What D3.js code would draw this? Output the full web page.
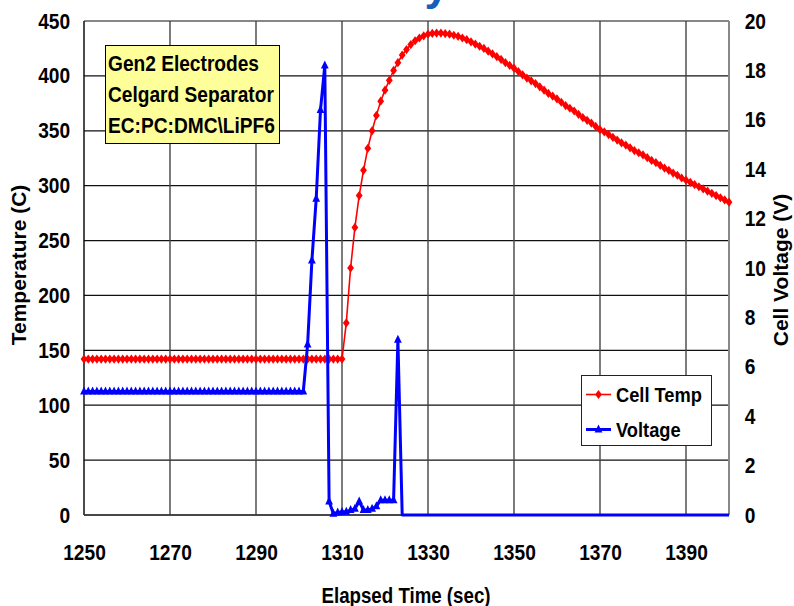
<!DOCTYPE html>
<html>
<head>
<meta charset="utf-8">
<script src="https://cdn.jsdelivr.net/npm/d3@7"></script>
<style>
body { margin: 0; background: #fff; }
svg { display: block; }
text { font-family: "Liberation Sans", Arial, sans-serif; font-weight: bold; fill: #000; }
</style>
</head>
<body>
<div id="chart"></div>
<script>
const width = 794, height = 606;
const margin = { left: 84, right: 65, top: 21, bottom: 91 };
const squeeze = 0.87; // the original font is a bit narrower than Arial

// elapsed time (sec), one sample per second
const seconds = [
    1250, 1251, 1252, 1253, 1254, 1255, 1256, 1257, 1258, 1259,
    1260, 1261, 1262, 1263, 1264, 1265, 1266, 1267, 1268, 1269,
    1270, 1271, 1272, 1273, 1274, 1275, 1276, 1277, 1278, 1279,
    1280, 1281, 1282, 1283, 1284, 1285, 1286, 1287, 1288, 1289,
    1290, 1291, 1292, 1293, 1294, 1295, 1296, 1297, 1298, 1299,
    1300, 1301, 1302, 1303, 1304, 1305, 1306, 1307, 1308, 1309,
    1310, 1311, 1312, 1313, 1314, 1315, 1316, 1317, 1318, 1319,
    1320, 1321, 1322, 1323, 1324, 1325, 1326, 1327, 1328, 1329,
    1330, 1331, 1332, 1333, 1334, 1335, 1336, 1337, 1338, 1339,
    1340, 1341, 1342, 1343, 1344, 1345, 1346, 1347, 1348, 1349,
    1350, 1351, 1352, 1353, 1354, 1355, 1356, 1357, 1358, 1359,
    1360, 1361, 1362, 1363, 1364, 1365, 1366, 1367, 1368, 1369,
    1370, 1371, 1372, 1373, 1374, 1375, 1376, 1377, 1378, 1379,
    1380, 1381, 1382, 1383, 1384, 1385, 1386, 1387, 1388, 1389,
    1390, 1391, 1392, 1393, 1394, 1395, 1396, 1397, 1398, 1399,
    1400
];

// Cell Temp (C)
const cellTemp = [
    142, 142, 142, 142, 142, 142, 142, 142, 142, 142,
    142, 142, 142, 142, 142, 142, 142, 142, 142, 142,
    142, 142, 142, 142, 142, 142, 142, 142, 142, 142,
    142, 142, 142, 142, 142, 142, 142, 142, 142, 142,
    142, 142, 142, 142, 142, 142, 142, 142, 142, 142,
    142, 142, 142, 142, 142, 142, 142, 142, 142, 142,
    142, 175, 225, 262, 291, 314, 334, 350, 364, 377,
    387, 396, 405, 412, 419, 424, 428.5, 432, 434.5, 436.5,
    438, 438.7, 439, 439, 438.5, 438, 437, 436, 434.5, 433,
    431, 429, 427, 425, 422.5, 420, 417.5, 415, 412, 409.5,
    407, 404, 401, 398, 395.5, 393, 390, 387, 384, 381.5,
    379, 376, 373, 370.5, 368, 365, 362, 359.5, 357, 354,
    351, 349, 346.5, 344, 341.5, 339, 337, 334.5, 332, 330,
    328, 325.5, 323, 321, 318.5, 316, 314, 311.5, 309.5, 307,
    305, 303, 301, 299, 297, 295, 293, 291, 289, 287,
    285
];

// Voltage (V)
const voltage = [
    5, 5, 5, 5, 5, 5, 5, 5, 5, 5,
    5, 5, 5, 5, 5, 5, 5, 5, 5, 5,
    5, 5, 5, 5, 5, 5, 5, 5, 5, 5,
    5, 5, 5, 5, 5, 5, 5, 5, 5, 5,
    5, 5, 5, 5, 5, 5, 5, 5, 5, 5,
    5, 5, 6.9, 10.3, 12.8, 16.4, 18.2, 0.55, 0.05, 0.1,
    0.12, 0.13, 0.2, 0.25, 0.55, 0.2, 0.2, 0.25, 0.35, 0.6,
    0.6, 0.6, 0.6, 7.1, 0, 0, 0, 0, 0, 0,
    0, 0, 0, 0, 0, 0, 0, 0, 0, 0,
    0, 0, 0, 0, 0, 0, 0, 0, 0, 0,
    0, 0, 0, 0, 0, 0, 0, 0, 0, 0,
    0, 0, 0, 0, 0, 0, 0, 0, 0, 0,
    0, 0, 0, 0, 0, 0, 0, 0, 0, 0,
    0, 0, 0, 0, 0, 0, 0, 0, 0, 0,
    0, 0, 0, 0, 0, 0, 0, 0, 0, 0,
    0
];

const xTicks = [1250, 1270, 1290, 1310, 1330, 1350, 1370, 1390];
const tempTicks = [0, 50, 100, 150, 200, 250, 300, 350, 400, 450];
const voltTicks = [0, 2, 4, 6, 8, 10, 12, 14, 16, 18, 20];
const noteLines = ["Gen2 Electrodes", "Celgard Separator", "EC:PC:DMC\\LiPF6"];
const legendItems = [
    { name: "Cell Temp", color: "#ff0000", marker: "diamond" },
    { name: "Voltage", color: "#0000ff", marker: "triangle" }
];

const diamondPath = "M0,-4.6L3.4,0L0,4.6L-3.4,0Z";
const trianglePath = "M0,-5L3.9,3L-3.9,3Z";

var svg, x, yTemp, yVolt;

function squeezeText(sel) {
    sel.attr("transform", "scale(" + squeeze + ",1)");
}

function render() {
    const plotW = width - margin.left - margin.right;
    const plotH = height - margin.top - margin.bottom;

    svg = d3.select("#chart").append("svg")
        .attr("width", width)
        .attr("height", height);

    // title sits above the picture, only the tail of the last letter shows
    svg.append("text")
        .attr("transform", "translate(449,0)")
        .attr("text-anchor", "end")
        .style("font-size", "44px")
        .style("fill", "#1560bd")
        .text("Thermal Runaway");

    const g = svg.append("g")
        .attr("transform", "translate(" + margin.left + "," + margin.top + ")");

    x = d3.scaleLinear().domain([1250, 1400]).range([0, plotW]);
    yTemp = d3.scaleLinear().domain([0, 450]).range([plotH, 0]);
    yVolt = d3.scaleLinear().domain([0, 20]).range([plotH, 0]);

    // grid
    g.append("g").selectAll("line")
        .data(tempTicks)
        .enter().append("line")
        .attr("x1", 0).attr("x2", plotW)
        .attr("y1", d => yTemp(d)).attr("y2", d => yTemp(d))
        .attr("stroke", "#111").attr("stroke-width", 1.2);

    g.append("g").selectAll("line")
        .data(xTicks.slice(1))
        .enter().append("line")
        .attr("x1", d => x(d)).attr("x2", d => x(d))
        .attr("y1", 0).attr("y2", plotH)
        .attr("stroke", "#444").attr("stroke-width", 1.4);

    g.append("line")
        .attr("x1", plotW).attr("x2", plotW).attr("y1", 0).attr("y2", plotH)
        .attr("stroke", "#888").attr("stroke-width", 2);

    // axes
    const xAxis = g.append("g")
        .attr("transform", "translate(0," + plotH + ")")
        .call(d3.axisBottom(x).tickValues(xTicks).tickFormat(d3.format("d")).tickSize(0).tickPadding(29));
    const leftAxis = g.append("g")
        .call(d3.axisLeft(yTemp).tickValues(tempTicks).tickSize(0).tickPadding(16));
    const rightAxis = g.append("g")
        .attr("transform", "translate(" + plotW + ",0)")
        .call(d3.axisRight(yVolt).tickValues(voltTicks).tickSize(0).tickPadding(18));

    [xAxis, leftAxis, rightAxis].forEach(function (a) {
        a.select(".domain").remove();
        a.selectAll("text")
            .style("font-size", "22px")
            .style("font-family", "'Liberation Sans', Arial, sans-serif")
            .style("font-weight", "bold")
            .attr("fill", "#000")
            .call(squeezeText);
    });

    g.append("line")
        .attr("x1", 0).attr("x2", 0).attr("y1", 0).attr("y2", plotH)
        .attr("stroke", "#000").attr("stroke-width", 1.4);
    g.append("line")
        .attr("x1", 0).attr("x2", plotW).attr("y1", plotH).attr("y2", plotH)
        .attr("stroke", "#333").attr("stroke-width", 1.4);

    // axis titles
    svg.append("text")
        .attr("transform", "translate(406,603) scale(" + squeeze + ",1)")
        .attr("text-anchor", "middle")
        .style("font-size", "21.5px")
        .text("Elapsed Time (sec)");
    svg.append("text")
        .attr("transform", "translate(26,265) rotate(-90)")
        .attr("text-anchor", "middle")
        .style("font-size", "21px")
        .text("Temperature (C)");
    svg.append("text")
        .attr("transform", "translate(788,270) rotate(-90)")
        .attr("text-anchor", "middle")
        .style("font-size", "21px")
        .text("Cell Voltage (V)");

    // note box
    svg.append("rect")
        .attr("x", 105.5).attr("y", 45.5).attr("width", 174).attr("height", 98)
        .attr("fill", "#ffff99").attr("stroke", "#000").attr("stroke-width", 1);
    svg.selectAll(".note")
        .data(noteLines)
        .enter().append("text")
        .attr("class", "note")
        .attr("transform", (d, i) => "translate(108," + (71 + i * 31) + ") scale(" + squeeze + ",1)")
        .style("font-size", "22px")
        .text(d => d);

    // series
    const tempData = seconds.map((t, i) => ({ t: t, v: cellTemp[i] }));
    const voltData = seconds.map((t, i) => ({ t: t, v: voltage[i] }));

    g.append("path")
        .datum(tempData)
        .attr("fill", "none")
        .attr("stroke", "#ff0000")
        .attr("stroke-width", 1.6)
        .attr("d", d3.line().x(d => x(d.t)).y(d => yTemp(d.v)));
    g.append("g").selectAll("path")
        .data(tempData)
        .enter().append("path")
        .attr("d", diamondPath)
        .attr("transform", d => "translate(" + x(d.t) + "," + yTemp(d.v) + ")")
        .attr("fill", "#ff0000");

    g.append("path")
        .datum(voltData)
        .attr("fill", "none")
        .attr("stroke", "#0000ff")
        .attr("stroke-width", 3)
        .attr("stroke-linejoin", "round")
        .attr("d", d3.line().x(d => x(d.t)).y(d => yVolt(d.v)));
    g.append("g").selectAll("path")
        .data(voltData.filter(d => d.v > 0))
        .enter().append("path")
        .attr("d", trianglePath)
        .attr("transform", d => "translate(" + x(d.t) + "," + yVolt(d.v) + ")")
        .attr("fill", "#0000ff");

    // legend
    const lg = svg.append("g").attr("transform", "translate(581,375)");
    lg.append("rect")
        .attr("x", 0.5).attr("y", 0.5).attr("width", 130).attr("height", 70)
        .attr("fill", "#fff").attr("stroke", "#222").attr("stroke-width", 1);
    const item = lg.selectAll(".item")
        .data(legendItems)
        .enter().append("g")
        .attr("class", "item")
        .attr("transform", (d, i) => "translate(0," + (19.5 + i * 35) + ")");
    item.append("line")
        .attr("x1", 5).attr("x2", 30)
        .attr("stroke", d => d.color)
        .attr("stroke-width", d => d.marker === "triangle" ? 3 : 1.6);
    item.append("path")
        .attr("d", d => d.marker === "diamond" ? diamondPath : trianglePath)
        .attr("transform", "translate(17.5,0)")
        .attr("fill", d => d.color);
    item.append("text")
        .attr("transform", "translate(35,7.5) scale(" + squeeze + ",1)")
        .style("font-size", "21px")
        .text(d => d.name);
}

render();
</script>
</body>
</html>
